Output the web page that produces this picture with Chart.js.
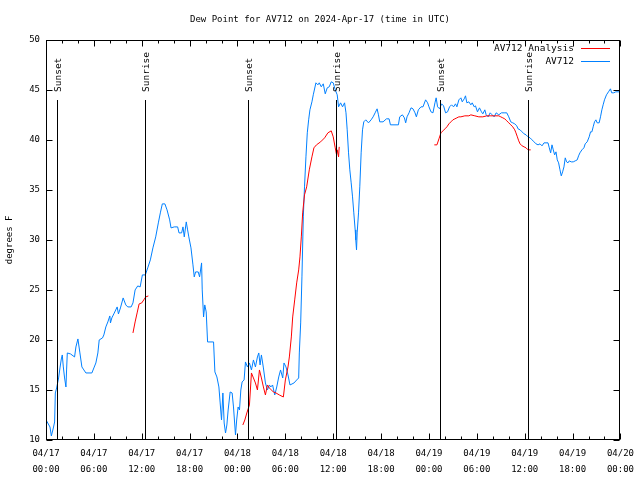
<!DOCTYPE html>
<html>
<head>
<meta charset="utf-8">
<title>Dew Point for AV712</title>
<script src="https://cdn.jsdelivr.net/npm/chart.js@4"></script>
<style>
  html, body { margin: 0; padding: 0; background: #fff; }
  canvas { display: block; }
</style>
</head>
<body>
<canvas id="dewChart" width="640" height="480"></canvas>
<script>
// Time axis is hours since 04/17 00:00 UTC
const tickLabels = ['04/17 00:00', '04/17 06:00', '04/17 12:00', '04/17 18:00',
    '04/18 00:00', '04/18 06:00', '04/18 12:00', '04/18 18:00',
    '04/19 00:00', '04/19 06:00', '04/19 12:00', '04/19 18:00', '04/20 00:00'];

const sunHours = [1.37, 12.38, 25.3, 36.3, 49.32, 60.35];
const sunLabels = ['Sunset', 'Sunrise', 'Sunset', 'Sunrise', 'Sunset', 'Sunrise'];

// AV712 observations
const obsHours = [0.08, 0.5, 0.67, 0.92, 1.08, 1.17, 1.33, 1.58, 1.75, 1.92, 2.04, 2.17, 2.33, 2.5, 2.58, 2.67,
    3.08, 3.58, 3.75, 4.0, 4.25, 4.5, 4.75, 5.0, 5.75, 6.0, 6.25, 6.5, 6.67, 7.08, 7.25, 7.5, 7.75,
    8.0, 8.08, 8.25, 8.5, 8.92, 9.08, 9.33, 9.67, 10.0, 10.25, 10.67, 10.9, 11.17, 11.5, 11.8,
    12.08, 12.45, 12.75, 13.08, 13.4, 13.75, 14.08, 14.33, 14.58, 14.9, 15.17, 15.5, 15.67,
    16.08, 16.5, 16.67, 17.0, 17.17, 17.33, 17.58, 17.75, 17.9, 18.17, 18.42, 18.58, 18.75,
    19.08, 19.25, 19.5, 19.58, 19.75, 19.9, 20.08, 20.25, 21.0, 21.17, 21.42, 21.67, 21.83,
    22.0, 22.17, 22.33, 22.5, 22.67, 22.83, 23.08, 23.33, 23.5, 23.75, 23.9, 24.08, 24.25,
    24.42, 24.58, 24.83, 25.0, 25.25, 25.5, 25.75, 26.0, 26.25, 26.5, 26.67, 26.83, 27.0,
    27.25, 27.5, 27.75, 28.0, 28.17, 28.4, 28.67, 28.92, 29.17, 29.4, 29.67, 29.83, 30.08,
    30.33, 30.58, 31.08, 31.42, 31.67, 31.75, 31.92, 32.08, 32.25, 32.4, 32.58, 32.75, 32.92,
    33.08, 33.33, 33.5, 33.83, 34.08, 34.25, 34.5, 34.75, 35.0, 35.25, 35.5, 35.75, 36.0,
    36.25, 36.5, 36.67, 36.92, 37.17, 37.42, 37.6, 37.75, 37.92, 38.08, 38.25, 38.42, 38.58,
    38.75, 38.83, 38.92, 39.0, 39.17, 39.33, 39.5, 39.67, 39.83, 40.08, 40.42, 40.75, 41.0,
    41.25, 41.5, 41.67, 41.83, 42.25, 42.67, 43.0, 43.17, 44.17, 44.33, 44.67, 44.92, 45.08,
    45.25, 45.5, 45.75, 46.0, 46.25, 46.42, 46.67, 47.0, 47.25, 47.58, 47.83, 48.0, 48.25,
    48.5, 48.75, 48.9, 49.08, 49.33, 49.58, 49.83, 50.08, 50.33, 50.58, 50.83, 51.08, 51.33,
    51.5, 51.75, 52.0, 52.17, 52.42, 52.58, 52.75, 53.0, 53.25, 53.42, 53.67, 53.83, 54.08,
    54.33, 54.58, 54.75, 55.0, 55.17, 55.42, 55.67, 55.92, 56.17, 56.42, 56.75, 57.08, 57.42,
    57.75, 58.0, 58.25, 58.5, 58.75, 59.0, 59.17, 59.42, 59.67, 59.92, 60.17, 60.42, 60.67,
    60.92, 61.17, 61.42, 61.67, 61.92, 62.17, 62.42, 62.67, 62.92, 63.08, 63.25, 63.42, 63.58,
    63.75, 63.92, 64.08, 64.25, 64.42, 64.58, 64.75, 64.92, 65.08, 65.25, 65.42, 65.58, 65.83,
    66.08, 66.33, 66.58, 66.75, 66.92, 67.17, 67.42, 67.58, 67.83, 68.08, 68.25, 68.42, 68.58,
    68.75, 68.92, 69.08, 69.33, 69.5, 69.67, 69.83, 70.0, 70.25, 70.5, 70.75, 70.9, 71.17,
    71.42, 71.9];
const obsValues = [11.9, 11.3, 10.4, 11.2, 11.8, 14.7, 15.2, 16.2, 17.2, 18.1, 18.5, 17.3, 16.2, 15.3, 17.0, 18.7,
    18.6, 18.3, 19.3, 20.1, 18.7, 17.3, 17.0, 16.7, 16.7, 17.2, 17.7, 18.7, 20.0, 20.2, 20.5, 21.3, 21.8,
    22.4, 21.7, 22.2, 22.6, 23.3, 22.6, 23.2, 24.2, 23.5, 23.3, 23.3, 23.7, 25.0, 25.4, 25.3,
    26.5, 26.5, 27.2, 28.0, 29.2, 30.3, 31.7, 32.7, 33.6, 33.6, 33.0, 32.0, 31.2,
    31.3, 31.3, 30.7, 30.7, 31.3, 30.3, 31.8, 31.0, 30.3, 29.2, 27.5, 26.3, 26.8,
    26.8, 26.3, 27.7, 25.0, 22.3, 23.5, 22.8, 19.8, 19.8, 16.8, 16.3, 15.3, 13.7,
    12.0, 14.7, 11.7, 10.7, 11.5, 13.0, 14.8, 14.7, 13.3, 10.5, 12.0, 13.3, 13.0,
    15.0, 15.8, 16.0, 17.8, 17.3, 17.7, 17.0, 18.0, 17.3, 18.3, 18.7, 17.5, 18.5,
    17.2, 15.7, 15.0, 15.5, 15.3, 15.5, 14.5, 15.3, 16.3, 17.0, 16.2, 17.7, 17.3,
    16.5, 15.5, 15.7, 16.0, 16.2, 18.7, 21.7, 26.3, 32.3, 35.3, 38.3, 40.7, 42.0,
    43.0, 43.8, 44.5, 45.7, 45.5, 45.7, 45.3, 45.6, 44.6, 45.2, 45.3, 45.8, 45.7,
    45.0, 44.5, 43.3, 43.7, 43.3, 43.7, 42.7, 41.0, 38.7, 37.0, 35.7, 34.3, 32.7,
    31.0, 30.0, 29.0, 30.7, 32.7, 35.3, 38.7, 41.0, 41.8, 42.0, 41.7, 42.0, 42.3,
    42.7, 43.1, 42.5, 41.8, 41.8, 42.1, 42.1, 41.5, 41.5, 42.3, 42.5, 42.2, 41.7,
    42.3, 42.7, 43.2, 43.1, 42.7, 42.3, 43.0, 43.3, 43.3, 44.0, 43.7, 43.3, 42.8,
    42.7, 43.7, 44.2, 43.3, 43.1, 43.6, 43.4, 42.7, 42.8, 43.3, 43.5, 43.3, 43.6,
    43.3, 44.0, 44.2, 43.8, 44.1, 44.4, 43.7, 43.8, 43.5, 43.7, 43.3, 43.4, 42.8,
    43.2, 42.8, 42.6, 43.0, 42.5, 42.3, 42.7, 42.5, 42.3, 42.7, 42.5, 42.7, 42.7,
    42.7, 42.3, 41.8, 41.7, 41.6, 41.4, 41.1, 41.0, 40.8, 40.6, 40.5, 40.3, 40.2,
    40.0, 39.8, 39.6, 39.5, 39.6, 39.4, 39.7, 39.7, 39.7, 39.2, 38.7, 39.5, 39.0,
    38.5, 38.8, 38.0, 37.7, 37.0, 36.4, 36.8, 37.3, 38.2, 37.8, 37.7, 37.9, 37.8,
    37.8, 37.9, 38.0, 38.4, 38.7, 39.0, 39.2, 39.6, 39.8, 40.3, 40.8, 40.8, 41.3,
    41.8, 42.0, 41.7, 41.7, 42.3, 43.0, 43.5, 44.0, 44.5, 44.8, 45.1, 44.7, 44.7,
    44.8, 44.8];

// AV712 Analysis (null = no analysis, breaks the line)
const anaHours = [10.9, 11.17, 11.42, 11.67, 12.0, 12.25, 12.5, 12.83, 18.0,
    24.67, 24.92, 25.17, 25.5, 25.75, 26.0, 26.25, 26.5, 26.75, 27.0, 27.25, 27.5, 27.75,
    28.0, 28.25, 28.5, 28.83, 29.25, 29.75, 30.0, 30.33, 30.5, 30.75, 30.92, 31.17, 31.42,
    31.67, 31.83, 32.0, 32.17, 32.4, 32.67, 33.0, 33.33, 33.58, 33.9, 34.42, 34.92, 35.33,
    35.75, 36.0, 36.25, 36.42, 36.5, 36.67, 36.75, 42.0,
    48.67, 49.0, 49.25, 49.5, 49.75, 50.0, 50.25, 50.5, 50.75, 51.0, 51.25, 51.5, 51.75,
    52.0, 52.5, 53.0, 53.25, 53.75, 54.25, 54.75, 55.25, 55.75, 56.25, 56.75, 57.0, 57.25,
    57.5, 57.75, 58.0, 58.25, 58.5, 58.75, 58.9, 59.08, 59.25, 59.42, 59.67, 59.92, 60.17,
    60.42, 60.75];
const anaValues = [20.7, 21.8, 22.7, 23.6, 23.7, 24.0, 24.3, 24.4, null,
    11.5, 12.0, 12.7, 13.5, 16.7, 16.2, 15.7, 15.0, 17.0, 16.2, 15.3, 14.5, 15.5,
    15.2, 15.0, 14.8, 14.7, 14.5, 14.3, 16.0, 17.3, 18.3, 20.3, 22.3, 24.0, 25.7,
    27.0, 28.3, 30.3, 32.7, 34.5, 35.3, 37.0, 38.3, 39.2, 39.5, 39.8, 40.2, 40.7,
    40.9, 40.3, 39.2, 38.5, 39.0, 38.3, 39.3, null,
    39.5, 39.5, 40.1, 40.7, 40.9, 41.1, 41.3, 41.6, 41.8, 42.0, 42.1, 42.2, 42.3,
    42.3, 42.4, 42.4, 42.5, 42.4, 42.3, 42.3, 42.4, 42.4, 42.4, 42.4, 42.3, 42.2,
    42.1, 41.9, 41.7, 41.5, 41.3, 41.0, 40.7, 40.3, 39.9, 39.6, 39.4, 39.3, 39.2,
    39.0, 39.0];

const MONO = "'DejaVu Sans Mono', 'Liberation Mono', monospace";
Chart.defaults.font.family = MONO;
Chart.defaults.font.size = 9;
Chart.defaults.color = '#000';

const toPoints = (xs, ys) => xs.map((x, i) => ({ x: x, y: ys[i] }));

// gnuplot-like frame, tick marks, sun lines and legend
const framePlugin = {
    id: 'frame',
    afterDatasetsDraw(chart) {
        const ctx = chart.ctx;
        const a = chart.chartArea;
        const xs = chart.scales.x;
        const ys = chart.scales.y;
        const L = Math.round(a.left) + 0.5, R = Math.round(a.right) - 0.5;
        const T = Math.round(a.top) + 0.5, B = Math.round(a.bottom) - 0.5;
        ctx.save();
        ctx.strokeStyle = '#000';
        ctx.lineWidth = 1;
        ctx.strokeRect(L, T, R - L, B - T);

        ctx.beginPath();
        for (let h = 0; h <= 72; h += 2) {
            const px = Math.round(xs.getPixelForValue(h)) + 0.5;
            const len = h % 6 === 0 ? 6 : 3;
            ctx.moveTo(px, B); ctx.lineTo(px, B - len);
            ctx.moveTo(px, T); ctx.lineTo(px, T + len);
        }
        for (let v = 10; v <= 50; v += 5) {
            const py = Math.round(ys.getPixelForValue(v)) + 0.5;
            ctx.moveTo(L, py); ctx.lineTo(L + 6, py);
            ctx.moveTo(R, py); ctx.lineTo(R - 6, py);
        }
        ctx.stroke();

        // sunrise / sunset markers
        ctx.font = '9.5px ' + MONO;
        sunHours.forEach((h, i) => {
            const px = Math.round(xs.getPixelForValue(h)) + 0.5;
            ctx.beginPath();
            ctx.moveTo(px, 100);
            ctx.lineTo(px, B);
            ctx.stroke();
            ctx.save();
            ctx.translate(px + 1, 92);
            ctx.rotate(-Math.PI / 2);
            ctx.textAlign = 'left';
            ctx.textBaseline = 'middle';
            ctx.fillStyle = '#000';
            ctx.fillText(sunLabels[i], 0, 0);
            ctx.restore();
        });

        // legend, top right
        ctx.font = '9.5px ' + MONO;
        ctx.textAlign = 'right';
        ctx.textBaseline = 'middle';
        chart.data.datasets.forEach((ds, i) => {
            const y = 49 + i * 13;
            ctx.fillStyle = '#000';
            ctx.fillText(ds.label, 574, y);
            ctx.strokeStyle = ds.borderColor;
            ctx.beginPath();
            ctx.moveTo(581, y - 0.5);
            ctx.lineTo(610, y - 0.5);
            ctx.stroke();
        });
        ctx.restore();
    }
};

const config = {
    type: 'line',
    data: {
        datasets: [{
            label: 'AV712 Analysis',
            data: toPoints(anaHours, anaValues),
            borderColor: 'rgb(255, 0, 0)',
            borderWidth: 1,
            pointRadius: 0,
            tension: 0,
            spanGaps: false
        }, {
            label: 'AV712',
            data: toPoints(obsHours, obsValues),
            borderColor: 'rgb(0, 128, 255)',
            borderWidth: 1,
            pointRadius: 0,
            tension: 0
        }]
    },
    options: {
        responsive: false,
        animation: false,
        events: [],
        layout: { padding: 0 },
        plugins: {
            legend: { display: false },
            tooltip: { enabled: false },
            title: {
                display: true,
                text: 'Dew Point for AV712 on 2024-Apr-17 (time in UTC)',
                color: '#000',
                font: { size: 9, weight: 'normal', lineHeight: 1.2 },
                padding: { top: 14, bottom: 15 }
            }
        },
        scales: {
            x: {
                type: 'linear',
                min: 0,
                max: 72,
                grid: { display: false, drawTicks: false },
                border: { display: false },
                ticks: {
                    stepSize: 6,
                    autoSkip: false,
                    maxRotation: 0,
                    padding: 6,
                    font: { size: 9, lineHeight: 1.75 },
                    callback: (value) => {
                        const s = tickLabels[Math.round(value / 6)];
                        return s ? s.split(' ') : '';
                    }
                },
                afterFit: (scale) => { scale.height = 40; }
            },
            y: {
                min: 10,
                max: 50,
                grid: { display: false, drawTicks: false },
                border: { display: false },
                ticks: { stepSize: 5, padding: 6, font: { size: 9 } },
                title: {
                    display: true,
                    text: 'degrees F',
                    font: { size: 9 },
                    padding: { top: 4, bottom: 0 }
                },
                afterFit: (scale) => { scale.width = 46; }
            },
            // empty right margin so the title centres on the whole canvas
            yRight: {
                position: 'right',
                min: 10,
                max: 50,
                grid: { display: false, drawTicks: false },
                border: { display: false },
                ticks: { display: false },
                afterFit: (scale) => { scale.width = 19; }
            }
        }
    },
    plugins: [framePlugin]
};

const ctx = document.getElementById('dewChart').getContext('2d');
const dewChart = new Chart(ctx, config);
</script>
</body>
</html>
